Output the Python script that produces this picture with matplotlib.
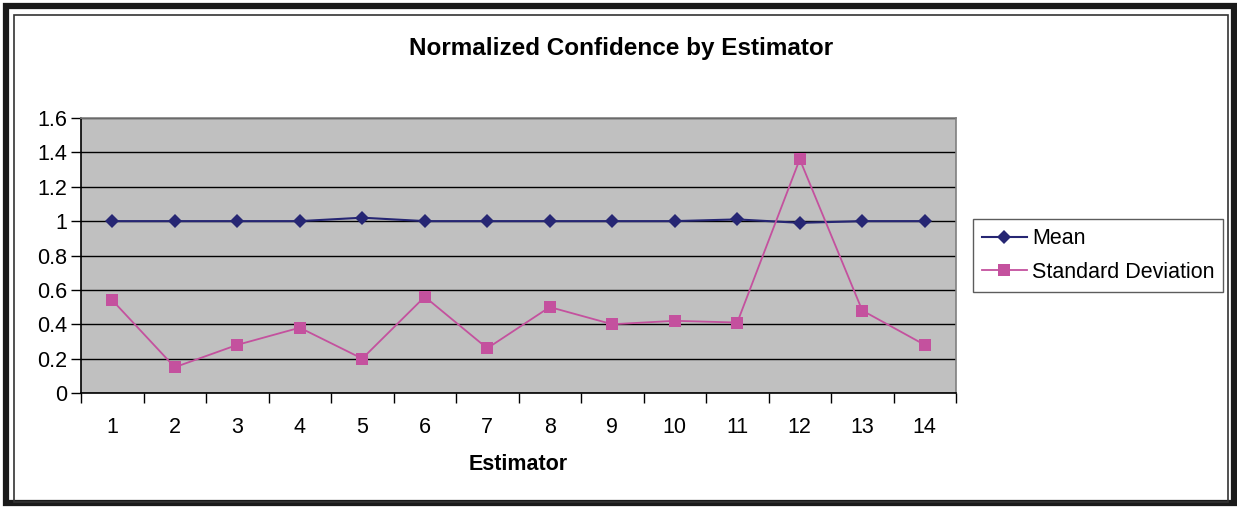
import matplotlib
matplotlib.use("Agg")
import matplotlib.pyplot as plt
import matplotlib.patches as mpatches

# Данные
estimators = list(range(1, 15))
mean_vals = [1.0, 1.0, 1.0, 1.0, 1.02, 1.0, 1.0, 1.0, 1.0, 1.0, 1.01, 0.99, 1.0, 1.0]
std_vals = [0.54, 0.15, 0.28, 0.38, 0.20, 0.56, 0.26, 0.50, 0.40, 0.42, 0.41, 1.36, 0.48, 0.28]
y_ticks = [0, 0.2, 0.4, 0.6, 0.8, 1, 1.2, 1.4, 1.6]
y_labels = ['0', '0.2', '0.4', '0.6', '0.8', '1', '1.2', '1.4', '1.6']

MEAN_COLOR = '#262673'
STD_COLOR = '#C4519E'

plt.rcParams['font.family'] = ['Liberation Sans', 'DejaVu Sans']

W, H = 1237, 508
fig = plt.figure(figsize=(W / 100, H / 100), dpi=100)

# Рамки вокруг всей диаграммы
fig.patches.append(mpatches.Rectangle(
    (6 / W, 5 / H), 1228 / W, 497 / H, transform=fig.transFigure,
    fill=False, edgecolor='#1a1a1a', linewidth=4.5))
fig.patches.append(mpatches.Rectangle(
    (13.5 / W, 6.5 / H), 1214 / W, 487 / H, transform=fig.transFigure,
    fill=False, edgecolor='#333333', linewidth=1.2))

# Область построения (пиксели: x 81..956, y 118..393)
left, right, top, bottom = 81, 956, 118, 393
ax = fig.add_axes([left / W, (H - bottom) / H, (right - left) / W, (bottom - top) / H])
ax.set_facecolor('#C0C0C0')

ax.plot(estimators, mean_vals, color=MEAN_COLOR, linewidth=1.5, marker='D',
        markersize=7.5, markeredgewidth=0, label='Mean', zorder=3)
ax.plot(estimators, std_vals, color=STD_COLOR, linewidth=1.3, marker='s',
        markersize=8, markeredgewidth=0, label='Standard Deviation', zorder=3)

ax.set_xlim(0.5, 14.5)
ax.set_ylim(0, 1.6)
ax.set_yticks(y_ticks)
ax.set_yticklabels(y_labels, fontsize=15.5)
ax.yaxis.grid(True, color='black', linewidth=1.0)
ax.set_axisbelow(True)

# Категориальная ось: засечки между категориями, подписи по центру
ax.set_xticks([i + 0.5 for i in range(0, 15)])
ax.set_xticklabels([])
ax.set_xticks(estimators, minor=True)
ax.set_xticklabels([str(e) for e in estimators], minor=True, fontsize=15.5)
ax.tick_params(axis='x', which='major', length=7, width=1, color='black', direction='out')
ax.tick_params(axis='x', which='minor', length=0, pad=17)
ax.tick_params(axis='y', length=7, width=1, direction='out', pad=3)

for s in ['top', 'right']:
    ax.spines[s].set_color('#808080')
    ax.spines[s].set_linewidth(1.2)
for s in ['left', 'bottom']:
    ax.spines[s].set_color('black')
    ax.spines[s].set_linewidth(1.2)

ax.set_xlabel('Estimator', fontsize=15.5, fontweight='bold', labelpad=12)

fig.text(621 / W, 1 - 49 / H, 'Normalized Confidence by Estimator',
         ha='center', va='center', fontsize=17.5, fontweight='bold')

leg = ax.legend(loc='center left', bbox_to_anchor=((973 - left) / (right - left), 0.5),
                fontsize=15.5, frameon=True, fancybox=False, edgecolor='#333333',
                borderpad=0.4, labelspacing=0.6, handlelength=2.1,
                handletextpad=0.25, borderaxespad=0)
leg.get_frame().set_linewidth(1.0)

fig.savefig('out.png', dpi=100)
